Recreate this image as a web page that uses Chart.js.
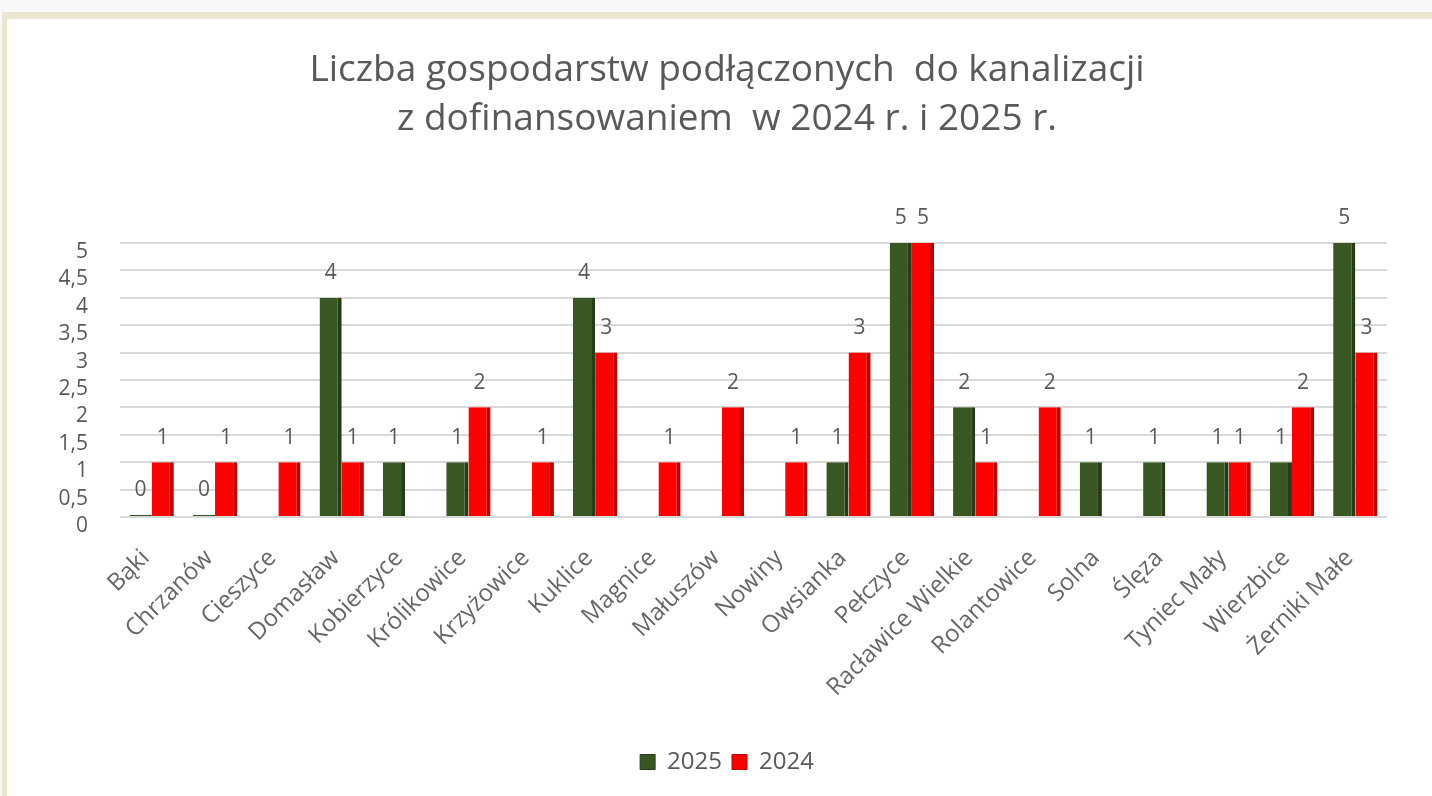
<!DOCTYPE html>
<html lang="pl">
<head>
<meta charset="utf-8">
<title>Liczba gospodarstw podłączonych do kanalizacji</title>
<script src="https://cdn.jsdelivr.net/npm/chart.js@4/dist/chart.umd.min.js"></script>
<style>
  html, body { margin: 0; padding: 0; background: #f8f8f8; }
  #frame {
    position: absolute; left: 2px; top: 12px; width: 1430px; height: 784px;
    background: #e9e7cd;
  }
  #box {
    position: absolute; left: 5px; top: 7px; width: 1425px; height: 777px;
    background: #ffffff;
  }
  canvas { display: block; }
</style>
</head>
<body>
<div id="frame"><div id="box"><canvas id="barChart" width="1425" height="777"></canvas></div></div>
<script>
// data
const villages = ['Bąki', 'Chrzanów', 'Cieszyce', 'Domasław', 'Kobierzyce', 'Królikowice', 'Krzyżowice',
  'Kuklice', 'Magnice', 'Małuszów', 'Nowiny', 'Owsianka', 'Pełczyce', 'Racławice Wielkie',
  'Rolantowice', 'Solna', 'Ślęza', 'Tyniec Mały', 'Wierzbice', 'Żerniki Małe'];
const values2025 = [0, 0, null, 4, 1, 1, null, 4, null, null, null, 1, 5, 2, null, 1, 1, 1, 1, 5];
const values2024 = [1, 1, 1, 1, null, 2, 1, 3, 1, 2, 1, 3, 5, 1, 2, null, null, 1, 2, 3];
const titleLines = ['Liczba gospodarstw podłączonych  do kanalizacji', 'z dofinansowaniem  w 2024 r. i 2025 r.'];

const FONT = '"Open Sans", Lato, sans-serif';

// value labels above bars
const valueLabels = {
  id: 'valueLabels',
  afterDatasetsDraw(chart) {
    const ctx = chart.ctx;
    ctx.save();
    ctx.font = '21px ' + FONT;
    ctx.fillStyle = '#595959';
    ctx.textAlign = 'center';
    ctx.textBaseline = 'bottom';
    chart.data.datasets.forEach((ds, i) => {
      chart.getDatasetMeta(i).data.forEach((bar, j) => {
        const v = ds.data[j];
        if (v === null || v === undefined) return;
        ctx.fillText(String(v), bar.x, bar.y - 14);
      });
    });
    ctx.restore();
  }
};

// y tick labels drawn outside the (narrow) y scale box so they are not clipped
const yLabels = {
  id: 'yLabels',
  afterDraw(chart) {
    const y = chart.scales.y;
    const ctx = chart.ctx;
    ctx.save();
    ctx.font = '21px ' + FONT;
    ctx.fillStyle = '#595959';
    ctx.textAlign = 'right';
    ctx.textBaseline = 'middle';
    y.ticks.forEach(t => {
      ctx.fillText(String(t.value).replace('.', ','), chart.chartArea.left - 32, y.getPixelForValue(t.value) + 9);
    });
    ctx.restore();
  }
};

new Chart(document.getElementById('barChart'), {
  type: 'bar',
  data: {
    labels: villages,
    datasets: [
      {
        label: '2025',
        data: values2025,
        backgroundColor: '#385723',
        borderColor: '#253c17',
        borderWidth: { right: 4, top: 0, left: 0, bottom: 0 },
        borderSkipped: false,
        barPercentage: 1,
        categoryPercentage: 0.7,
        minBarLength: 2
      },
      {
        label: '2024',
        data: values2024,
        backgroundColor: '#ff0000',
        borderColor: '#c00000',
        borderWidth: { right: 4, top: 0, left: 0, bottom: 0 },
        borderSkipped: false,
        barPercentage: 1,
        categoryPercentage: 0.7
      }
    ]
  },
  options: {
    responsive: false,
    animation: false,
    layout: { padding: { left: 60, right: 45, top: 0, bottom: 12 } },
    plugins: {
      title: {
        display: true,
        text: titleLines,
        color: '#595959',
        font: { family: FONT, size: 37, weight: 'normal', lineHeight: 1.35 },
        padding: { top: 26, bottom: 98 }
      },
      legend: {
        position: 'bottom',
        labels: {
          color: '#595959',
          font: { family: FONT, size: 24 },
          boxWidth: 15,
          boxHeight: 15,
          padding: 10
        }
      },
      tooltip: { enabled: false }
    },
    scales: {
      x: {
        grid: { display: false },
        border: { display: false },
        ticks: {
          color: '#666666',
          font: { family: FONT, size: 24 },
          maxRotation: 45,
          minRotation: 45,
          padding: 19,
          labelOffset: -6,
          autoSkip: false
        },
        afterFit(scale) { scale.height = 223; }
      },
      y: {
        min: 0,
        max: 5,
        ticks: {
          stepSize: 0.5,
          autoSkip: false,
          display: false
        },
        grid: { color: '#d9d9d9', lineWidth: 2, drawTicks: false },
        border: { display: false },
        afterFit(scale) { scale.width = 53; }
      }
    }
  },
  plugins: [valueLabels, yLabels]
});
</script>
</body>
</html>
